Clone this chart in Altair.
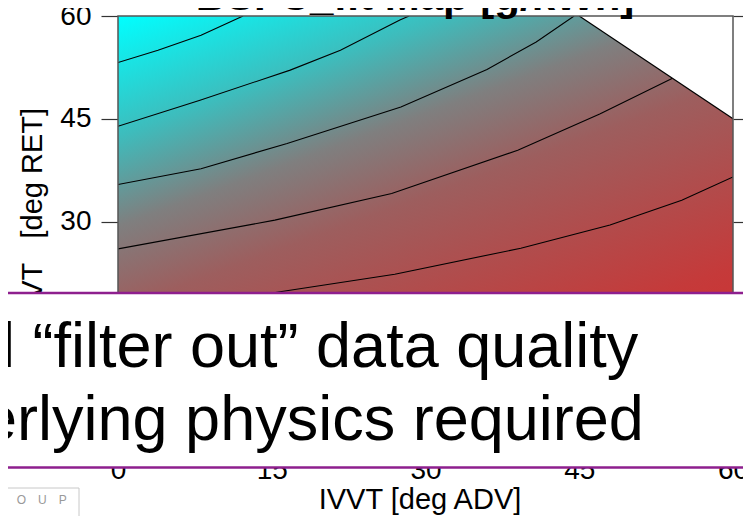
import altair as alt
import pandas as pd

# ---------------- data ----------------
x_ticks = [0, 15, 30, 45, 60]
y_ticks = [30, 45, 60]          # 0 and 15 lie under the text band

# contour lines (x = IVVT ADV deg, y = IVVT RET deg)
contour_a_x = [0.0, 3.9, 8.1, 12.2]
contour_a_y = [53.2, 55.0, 57.2, 60.0]
contour_b_x = [0.0, 8.0, 16.8, 21.7, 27.5, 28.4]
contour_b_y = [43.9, 47.7, 52.1, 55.0, 59.4, 60.0]
contour_c_x = [0.0, 8.1, 16.5, 27.6, 36.0, 40.8, 44.5]
contour_c_y = [35.4, 37.7, 41.4, 46.7, 52.2, 56.2, 60.0]
contour_d_x = [0.0, 15.3, 26.7, 39.0, 47.0, 54.1]
contour_d_y = [26.0, 30.2, 34.1, 40.4, 45.7, 50.9]
contour_e_x = [14.7, 27.0, 39.3, 48.0, 55.0, 60.0]
contour_e_y = [19.5, 22.3, 26.1, 29.5, 33.1, 36.5]

# edge of the valid region (upper right corner is empty)
mask_x = [45, 60]
mask_y = [60, 45]

# map extent
map_x = [0, 60]
map_y = [0, 60]

title_text = "BSFC_fit Map [g/kWh]"
x_title = "IVVT [deg ADV]"
y_title = "IVVT\u00a0\u00a0 [deg RET]"
band_line1 = "l \u201cfilter out\u201d data quality"
band_line2 = "erlying physics required"
logo_text = "R\u2003O\u2003U\u2003P"

FONT = "Liberation Sans"
PURPLE = "#8e1f8e"

# ---------------- tables ----------------
rows = []
for name, xs_, ys_ in [("A", contour_a_x, contour_a_y), ("B", contour_b_x, contour_b_y),
                       ("C", contour_c_x, contour_c_y), ("D", contour_d_x, contour_d_y),
                       ("E", contour_e_x, contour_e_y)]:
    for i, (xx, yy) in enumerate(zip(xs_, ys_)):
        rows.append({"level": name, "order": i, "x": xx, "y": yy})
contours = pd.DataFrame(rows)

area_df = pd.DataFrame({"x": [map_x[0]], "x2": [map_x[1]], "y": [map_y[0]], "y2": [map_y[1]]})
mask_df = pd.DataFrame({"x": mask_x, "y": mask_y, "top": [map_y[1]] * len(mask_x)})
one = pd.DataFrame({"k": [0]})

xsc = alt.Scale(domain=map_x, nice=False, zero=False)
ysc = alt.Scale(domain=map_y, nice=False, zero=False)

gradient = alt.Gradient(
    gradient="linear",
    stops=[
        alt.GradientStop(offset=0.0, color="#00ffff"),
        alt.GradientStop(offset=0.19, color="#3ebcbc"),
        alt.GradientStop(offset=0.33, color="#7f7f7f"),
        alt.GradientStop(offset=0.46, color="#9d5e5e"),
        alt.GradientStop(offset=0.75, color="#c53a3a"),
        alt.GradientStop(offset=1.0, color="#d82828"),
    ],
    x1=0, y1=0, x2=0.654, y2=1.19,
)

x_axis = alt.Axis(values=x_ticks, tickSize=17, labelPadding=12, labelFlush=False,
                  labelFontSize=28, labelFont=FONT, labelColor="black", tickColor="#333",
                  tickWidth=1.2, domain=False, grid=False, title=None)

heat = alt.Chart(area_df).mark_rect(fill=gradient, clip=True).encode(
    x=alt.X("x:Q", scale=xsc, axis=x_axis),
    x2="x2:Q",
    y=alt.Y("y:Q", scale=ysc, axis=alt.Axis(values=y_ticks, tickSize=17, labelPadding=10,
                                             labelFontSize=28, labelFont=FONT, labelColor="black",
                                             tickColor="#333", tickWidth=1.2, domain=False,
                                             grid=False, title=None)),
    y2="y2:Q",
)

lines = alt.Chart(contours).mark_line(color="black", strokeWidth=1.1, clip=True).encode(
    x=alt.X("x:Q", scale=xsc, axis=x_axis),
    y=alt.Y("y:Q", scale=ysc, axis=alt.Axis(orient="right", values=y_ticks, labels=False,
                                             tickSize=18, tickColor="#333", tickWidth=1.2,
                                             domain=False, grid=False, title=None)),
    detail="level:N",
    order="order:Q",
)

mask = alt.Chart(mask_df).mark_area(fill="white", clip=True).encode(
    x=alt.X("x:Q", scale=xsc, axis=x_axis),
    y=alt.Y("y:Q", scale=ysc, axis=None),
    y2="top:Q",
)
mask_edge = alt.Chart(mask_df).mark_line(color="black", strokeWidth=1.2, clip=True).encode(
    x=alt.X("x:Q", scale=xsc, axis=x_axis),
    y=alt.Y("y:Q", scale=ysc, axis=None),
)

frame = alt.Chart(area_df).mark_rect(fillOpacity=0, stroke="#555", strokeWidth=1.5).encode(
    x=alt.X("x:Q", scale=xsc, axis=x_axis), x2="x2:Q",
    y=alt.Y("y:Q", scale=ysc, axis=None), y2="y2:Q",
)

title = alt.Chart(one).mark_text(font=FONT, fontSize=42, fontWeight="bold", align="center",
                                 baseline="alphabetic", color="black").encode(
    x=alt.value(297), y=alt.value(-6), text=alt.value(title_text))

ytitle = alt.Chart(one).mark_text(font=FONT, fontSize=29, angle=270, align="right",
                                  baseline="alphabetic", color="black").encode(
    x=alt.value(-76), y=alt.value(92), text=alt.value(y_title))

xtitle = alt.Chart(one).mark_text(font=FONT, fontSize=29, align="center",
                                  baseline="alphabetic", color="black").encode(
    x=alt.value(302), y=alt.value(493), text=alt.value(x_title))

band = alt.Chart(one).mark_rect(fill="white").encode(
    x=alt.value(-130), x2=alt.value(650), y=alt.value(276), y2=alt.value(452))
band_top = alt.Chart(one).mark_rule(color=PURPLE, strokeWidth=2.5).encode(
    x=alt.value(-130), x2=alt.value(650), y=alt.value(277))
band_bot = alt.Chart(one).mark_rule(color=PURPLE, strokeWidth=2.5).encode(
    x=alt.value(-130), x2=alt.value(650), y=alt.value(451.5))

line1 = alt.Chart(one).mark_text(font=FONT, fontSize=63, align="left", baseline="alphabetic",
                                 color="black").encode(
    x=alt.value(-117), y=alt.value(351), text=alt.value(band_line1))
line2 = alt.Chart(one).mark_text(font=FONT, fontSize=63, align="left", baseline="alphabetic",
                                 color="black").encode(
    x=alt.value(-136), y=alt.value(424), text=alt.value(band_line2))

logo_box = alt.Chart(one).mark_rect(fillOpacity=0, stroke="#c8c8c8", strokeWidth=1).encode(
    x=alt.value(-140), x2=alt.value(-39), y=alt.value(472), y2=alt.value(520))
logo = alt.Chart(one).mark_text(font=FONT, fontSize=12, align="left", baseline="alphabetic",
                                color="#999999").encode(
    x=alt.value(-122), y=alt.value(488), text=alt.value(logo_text))

chart = alt.layer(
    heat, lines, mask, mask_edge, frame, title, ytitle, xtitle,
    band, band_top, band_bot, line1, line2, logo_box, logo,
).resolve_axis(y="independent").properties(
    width=615, height=411,
    padding={"left": 110, "top": 8, "right": 10, "bottom": 89},
    autosize=alt.AutoSizeParams(type="none"),
    background="white",
).configure_view(strokeWidth=0)

chart.save("out.html", embed_options={"renderer": "svg", "actions": False})
